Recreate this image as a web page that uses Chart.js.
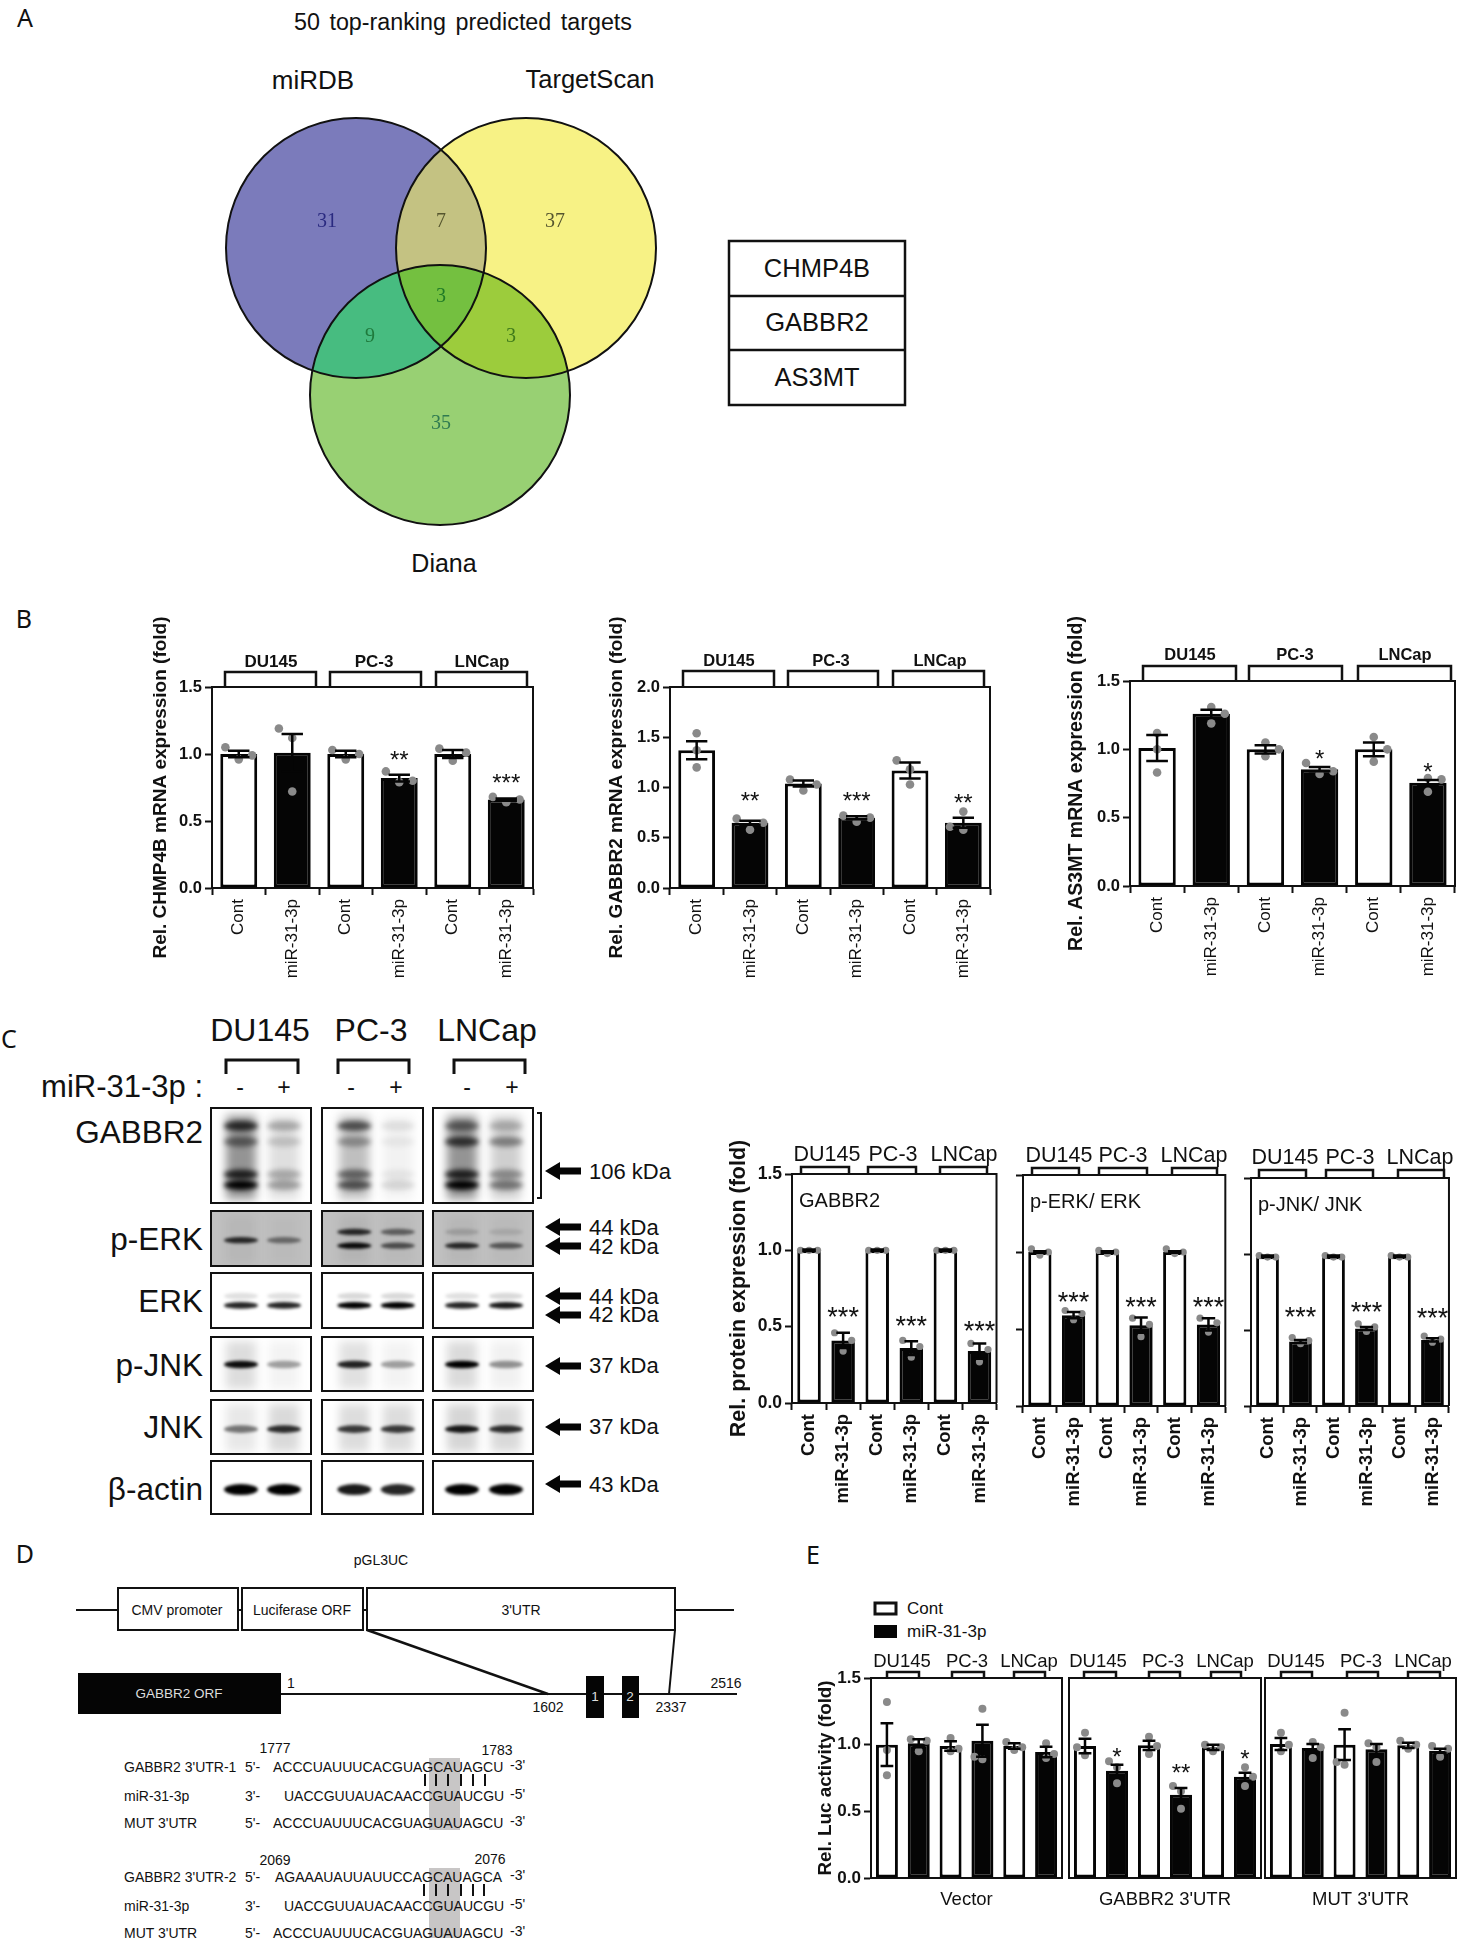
<!DOCTYPE html>
<html lang="en">
<head>
<meta charset="UTF-8">
<title>miR-31-3p targets</title>
<script src="https://cdn.jsdelivr.net/npm/chart.js"></script>
<style>
    html, body { margin: 0; background: #fff; }
    #page { position: relative; width: 1460px; height: 1940px; overflow: hidden; font-family: "Liberation Sans", Arial, sans-serif; color: #111; }
    #page canvas { position: absolute; }
    #page svg { position: absolute; left: 0; top: 0; }
    .t { position: absolute; white-space: pre; line-height: 1; }
</style>
</head>
<body>
<div id="page"></div>
<script>
// ---- data ----
const treatments = ['Cont', 'miR-31-3p', 'Cont', 'miR-31-3p', 'Cont', 'miR-31-3p'];
const cellLines = ['DU145', 'PC-3', 'LNCap'];
const noStars = ['', '', '', '', '', ''];
const noStarY = [0, 0, 0, 0, 0, 0];

// B: mRNA
const chmp4bMean = [1.00, 1.01, 1.00, 0.82, 1.00, 0.66];
const chmp4bSem = [0.025, 0.14, 0.025, 0.025, 0.03, 0.008];
const chmp4bDots = [[1.05, 0.96, 0.99], [1.19, 1.12, 0.72], [1.03, 0.96, 1.00], [0.87, 0.79, 0.80], [1.04, 0.95, 1.01], [0.68, 0.64, 0.66]];
const chmp4bStars = ['', '', '', '**', '', '***'];
const chmp4bStarY = [0, 0, 0, 1.0, 0, 0.83];

const gabbr2Mean = [1.37, 0.65, 1.04, 0.70, 1.17, 0.65];
const gabbr2Sem = [0.09, 0.02, 0.03, 0.015, 0.08, 0.05];
const gabbr2Dots = [[1.54, 1.37, 1.20], [0.69, 0.58, 0.65], [1.08, 0.97, 1.03], [0.72, 0.66, 0.70], [1.27, 1.18, 1.03], [0.76, 0.58, 0.61]];
const gabbr2Stars = ['', '**', '', '***', '', '**'];
const gabbr2StarY = [0, 0.93, 0, 0.93, 0, 0.91];

const as3mtMean = [1.01, 1.26, 1.00, 0.855, 1.00, 0.755];
const as3mtSem = [0.095, 0.03, 0.03, 0.015, 0.05, 0.02];
const as3mtDots = [[1.12, 0.83, 1.00], [1.31, 1.19, 1.26], [1.05, 0.95, 1.00], [0.90, 0.82, 0.84], [1.09, 0.91, 1.00], [0.79, 0.69, 0.78]];
const as3mtStars = ['', '', '', '*', '', '*'];
const as3mtStarY = [0, 0, 0, 0.975, 0, 0.88];

// C: protein
const protGabbr2Mean = [1.00, 0.41, 1.00, 0.36, 1.00, 0.34];
const protGabbr2Sem = [0.005, 0.05, 0.005, 0.045, 0.005, 0.05];
const protGabbr2Dots = [[1, 1, 1], [0.46, 0.34, 0.41], [1, 1, 1], [0.41, 0.30, 0.37], [1, 1, 1], [0.39, 0.27, 0.35]];
const protGabbr2Stars = ['', '***', '', '***', '', '***'];
const protGabbr2StarY = [0, 0.607, 0, 0.552, 0, 0.517];

const pErkMean = [1.00, 0.59, 1.00, 0.525, 1.00, 0.53];
const pErkSem = [0.005, 0.02, 0.005, 0.05, 0.005, 0.04];
const pErkDots = [[1.02, 0.98, 1.00], [0.62, 0.56, 0.60], [1.01, 0.99, 1.00], [0.57, 0.45, 0.53], [1.02, 0.99, 1.00], [0.57, 0.48, 0.54]];
const pErkStars = ['', '***', '', '***', '', '***'];
const pErkStarY = [0, 0.72, 0, 0.69, 0, 0.685];

const pJnkMean = [0.985, 0.425, 0.985, 0.51, 0.985, 0.435];
const pJnkSem = [0.005, 0.01, 0.005, 0.01, 0.005, 0.01];
const pJnkDots = [[0.99, 0.98, 0.98], [0.45, 0.41, 0.43], [0.99, 0.98, 0.98], [0.54, 0.49, 0.52], [0.99, 0.98, 0.98], [0.46, 0.42, 0.44]];
const pJnkStars = ['', '***', '', '***', '', '***'];
const pJnkStarY = [0, 0.63, 0, 0.665, 0, 0.625];

// E: luciferase
const vectorMean = [1.00, 1.01, 0.99, 1.03, 0.99, 0.945];
const vectorSem = [0.16, 0.03, 0.035, 0.12, 0.02, 0.04];
const vectorDots = [[1.32, 0.96, 0.77], [1.04, 0.95, 1.03], [1.05, 0.95, 0.97], [1.27, 0.91, 0.89], [1.02, 0.96, 0.98], [1.01, 0.90, 0.93]];

const utrMean = [0.99, 0.805, 0.995, 0.625, 0.98, 0.76];
const utrSem = [0.055, 0.045, 0.035, 0.05, 0.02, 0.03];
const utrDots = [[1.09, 0.92, 0.98], [0.875, 0.71, 0.83], [1.06, 0.93, 0.99], [0.69, 0.52, 0.65], [1.00, 0.95, 0.98], [0.83, 0.69, 0.76]];
const utrStars = ['', '*', '', '**', '', '*'];
const utrStarY = [0, 0.957, 0, 0.83, 0, 0.937];

const mutMean = [1.005, 0.975, 1.00, 0.965, 0.995, 0.955];
const mutSem = [0.045, 0.03, 0.115, 0.04, 0.02, 0.015];
const mutDots = [[1.09, 0.95, 1.00], [1.02, 0.90, 0.98], [1.24, 0.85, 0.87], [1.01, 0.87, 0.98], [1.03, 0.97, 1.00], [0.99, 0.91, 0.97]];

// A: venn
const vennX = [356, 526, 440];
const vennY = [248, 248, 395];
const vennR = [130, 130, 130];
const vennCounts = ['31', '7', '37', '3', '9', '3', '35'];
const vennCountX = [327, 441, 555, 441, 370, 511, 441];
const vennCountY = [222, 222, 222, 297, 337, 337, 424];
const targetGenes = ['CHMP4B', 'GABBR2', 'AS3MT'];

// C: blot band density, one list per lane (-,+ for each cell line), one value per band level
const gabbr2Levels = [0.19, 0.355, 0.70, 0.81];
const gabbr2Density = [[0.75, 0.45, 0.8, 1], [0.25, 0.15, 0.25, 0.3], [0.6, 0.3, 0.5, 0.6], [0.08, 0.05, 0.06, 0.12], [0.45, 0.7, 0.8, 1], [0.2, 0.4, 0.35, 0.45]];
const perkLevels = [0.38, 0.53, 0.63];
const perkDensity = [[0, 0.8, 0], [0, 0.45, 0], [0.8, 0, 0.95], [0.5, 0, 0.6], [0.15, 0, 0.8], [0.1, 0, 0.55]];
const erkLevels = [0.42, 0.59];
const erkDensity = [[0.12, 0.85], [0.12, 0.85], [0.15, 1], [0.15, 1], [0.12, 0.85], [0.15, 0.9]];
const pjnkLevels = [0.51];
const pjnkDensity = [[0.95], [0.35], [0.85], [0.35], [1], [0.4]];
const jnkLevels = [0.54];
const jnkDensity = [[0.5], [0.8], [0.75], [0.75], [0.9], [0.8]];
const actinLevels = [0.54];
const actinDensity = [[1], [1], [0.9], [0.85], [1], [1]];

// ---- page helpers ----
const FONT = '"Liberation Sans", Arial, sans-serif';
const page = document.getElementById('page');
const svg = document.createElementNS('http://www.w3.org/2000/svg', 'svg');
svg.setAttribute('width', 1460);
svg.setAttribute('height', 1940);
page.appendChild(svg);

function shape(name, attrs) {
    const el = document.createElementNS('http://www.w3.org/2000/svg', name);
    for (const k in attrs) el.setAttribute(k, attrs[k]);
    svg.appendChild(el);
    return el;
}
function line(x1, y1, x2, y2, w) { shape('line', { x1, y1, x2, y2, stroke: '#111', 'stroke-width': w || 2 }); }
function box(x1, y1, x2, y2, w, fill) {
    shape('rect', { x: x1, y: y1, width: x2 - x1, height: y2 - y1, fill: fill || '#fff', stroke: w ? '#111' : 'none', 'stroke-width': w || 0 });
}
// anchor: l, c or r. y is the vertical centre of the text
function label(text, x, y, size, anchor, extra) {
    const el = document.createElement('div');
    el.className = 't';
    el.textContent = text;
    el.style.left = x + 'px';
    el.style.top = y + 'px';
    el.style.fontSize = size + 'px';
    const dx = anchor === 'c' ? '-50%' : anchor === 'r' ? '-100%' : '0';
    el.style.transform = 'translate(' + dx + ',-50%)';
    Object.assign(el.style, extra || {});
    page.appendChild(el);
}
function newCanvas(left, top, width, height) {
    const c = document.createElement('canvas');
    c.width = width;
    c.height = height;
    c.style.left = left + 'px';
    c.style.top = top + 'px';
    c.style.width = width + 'px';
    c.style.height = height + 'px';
    page.appendChild(c);
    return c;
}
function pageScales(left, top, width, height) {
    return {
        x: { type: 'linear', display: false, min: left, max: left + width },
        y: { type: 'linear', display: false, min: top, max: top + height, reverse: true }
    };
}
const quiet = { legend: { display: false }, tooltip: { enabled: false } };

// Prism style spread of the three replicates: slot -1, 0 or 1 next to the bar centre
function spreadDots(values, pxPerUnit, gap) {
    const sorted = [...values].sort((a, b) => a - b);
    const placed = [];
    const close = (a, b) => Math.abs(a - b) * pxPerUnit < gap;
    sorted.forEach((v, i) => {
        const hit = s => placed.some(p => p.slot === s && close(p.v, v));
        let slot = 0;
        if (hit(0)) {
            const more = i < sorted.length - 1 && close(sorted[i + 1], v);
            slot = more ? 1 : (hit(-1) ? 1 : -1);
        }
        placed.push({ v, slot });
    });
    return placed;
}

// ---- bar panels ----
const panels = [
    { mean: chmp4bMean, sem: chmp4bSem, dots: chmp4bDots, stars: chmp4bStars, starY: chmp4bStarY, l: 212, r: 533, t: 687, b: 888, yMax: 1.5, head: 80, foot: 95,
      title: 'Rel. CHMP4B mRNA expression (fold)', titleX: 161, titleSize: 19, tickSize: 16.5, xFont: { size: 17 }, groupFont: 'bold 17px ', brackets: [[225, 316], [330, 421], [436, 527]], bracketTop: 672, labelX: [271, 374, 482], labelY: 662, dotR: 4.3, gap: 13, starSize: 24 },
    { mean: gabbr2Mean, sem: gabbr2Sem, dots: gabbr2Dots, stars: gabbr2Stars, starY: gabbr2StarY, l: 670, r: 990, t: 687, b: 888, yMax: 2, head: 80, foot: 95,
      title: 'Rel. GABBR2 mRNA expression (fold)', titleX: 617, titleSize: 19, tickSize: 16.5, xFont: { size: 17 }, groupFont: 'bold 16.5px ', brackets: [[683, 774], [788, 878], [893, 984]], bracketTop: 671, labelX: [729, 831, 940], labelY: 661, dotR: 4.3, gap: 13, starSize: 24 },
    { mean: as3mtMean, sem: as3mtSem, dots: as3mtDots, stars: as3mtStars, starY: as3mtStarY, l: 1130, r: 1455, t: 681, b: 886, yMax: 1.5, head: 80, foot: 95,
      title: 'Rel. AS3MT mRNA expression (fold)', titleX: 1077, titleSize: 19.5, tickSize: 16.5, xFont: { size: 17 }, groupFont: 'bold 16.5px ', brackets: [[1143, 1236], [1249, 1342], [1358, 1451]], bracketTop: 666, labelX: [1190, 1295, 1405], labelY: 655, dotR: 4.3, gap: 13, starSize: 24 },

    { mean: protGabbr2Mean, sem: protGabbr2Sem, dots: protGabbr2Dots, stars: protGabbr2Stars, starY: protGabbr2StarY, l: 792, r: 1002, t: 1174, b: 1403, yMax: 1.5, head: 40, foot: 112,
      title: 'Rel. protein expression (fold)', titleX: 739, titleSize: 21.5, tickSize: 17.5, xFont: { size: 18.5, weight: 'bold' }, groupFont: '21.5px ', brackets: [[801, 849], [868, 916], [940, 987]], bracketTop: 1167, labelX: [827, 893, 964], labelY: 1155, dotR: 3.6, gap: 35, starSize: 27, inset: 'GABBR2' },
    { mean: pErkMean, sem: pErkSem, dots: pErkDots, stars: pErkStars, starY: pErkStarY, l: 1023, r: 1231, t: 1175, b: 1406, yMax: 1.5, head: 40, foot: 112,
      noTickText: true, xFont: { size: 18.5, weight: 'bold' }, groupFont: '21.5px ', brackets: [[1032, 1079], [1099, 1147], [1172, 1217]], bracketTop: 1168, labelX: [1059, 1123, 1194], labelY: 1156, dotR: 3.6, gap: 35, starSize: 27, inset: 'p-ERK/ ERK' },
    { mean: pJnkMean, sem: pJnkSem, dots: pJnkDots, stars: pJnkStars, starY: pJnkStarY, l: 1251, r: 1455, t: 1178, b: 1406, yMax: 1.5, head: 40, foot: 112,
      noTickText: true, xFont: { size: 18.5, weight: 'bold' }, groupFont: '21.5px ', brackets: [[1259, 1306], [1326, 1373], [1398, 1444]], bracketTop: 1170, labelX: [1285, 1350, 1420], labelY: 1158, dotR: 3.6, gap: 35, starSize: 27, inset: 'p-JNK/ JNK' },

    { mean: vectorMean, sem: vectorSem, dots: vectorDots, stars: noStars, starY: noStarY, l: 871, r: 1062, t: 1678, b: 1878, yMax: 1.5, head: 30, foot: 37,
      title: 'Rel. Luc activity (fold)', titleX: 826, titleSize: 18.8, tickSize: 17, xTitle: 'Vector', groupFont: '18.5px ', brackets: [[887, 919], [952, 984], [1014, 1045]], bracketTop: 1672, labelX: [902, 967, 1029], labelY: 1662, dotR: 4, gap: 13, starSize: 24 },
    { mean: utrMean, sem: utrSem, dots: utrDots, stars: utrStars, starY: utrStarY, l: 1069, r: 1261, t: 1678, b: 1878, yMax: 1.5, head: 30, foot: 37,
      noTickText: true, noTicks: true, xTitle: "GABBR2 3'UTR", groupFont: '18.5px ', brackets: [[1084, 1116], [1149, 1180], [1211, 1241]], bracketTop: 1672, labelX: [1098, 1163, 1225], labelY: 1662, dotR: 4, gap: 13, starSize: 24 },
    { mean: mutMean, sem: mutSem, dots: mutDots, stars: noStars, starY: noStarY, l: 1265, r: 1456, t: 1678, b: 1878, yMax: 1.5, head: 30, foot: 37,
      noTickText: true, noTicks: true, xTitle: "MUT 3'UTR", groupFont: '18.5px ', brackets: [[1281, 1312], [1347, 1378], [1408, 1440]], bracketTop: 1672, labelX: [1296, 1361, 1423], labelY: 1662, dotR: 4, gap: 13, starSize: 24 }
];

// replicate dots, error bars, stars, open frame and the cell line brackets on top of the bars
function panelPlugin(p, left, top) {
    return {
        id: 'panelExtras',
        afterDatasetsDraw(chart) {
            const ctx = chart.ctx, x = chart.scales.x, y = chart.scales.y, area = chart.chartArea;
            const cap = (area.right - area.left) / 6 * 0.2;
            const perUnit = (p.b - p.t) / p.yMax;
            ctx.save();
            ctx.fillStyle = '#8a8a8a';
            p.dots.forEach((vals, i) => {
                spreadDots(vals, perUnit, p.gap).forEach(d => {
                    ctx.beginPath();
                    ctx.arc(x.getPixelForValue(i + d.slot * 0.25), y.getPixelForValue(d.v), p.dotR, 0, Math.PI * 2);
                    ctx.fill();
                });
            });
            ctx.strokeStyle = '#050505';
            ctx.lineWidth = 2.5;
            p.mean.forEach((m, i) => {
                const px = x.getPixelForValue(i);
                const hi = y.getPixelForValue(m + p.sem[i]), lo = y.getPixelForValue(m - p.sem[i]);
                ctx.beginPath();
                ctx.moveTo(px, hi); ctx.lineTo(px, lo);
                ctx.moveTo(px - cap, hi); ctx.lineTo(px + cap, hi);
                ctx.moveTo(px - cap, lo); ctx.lineTo(px + cap, lo);
                ctx.stroke();
            });
            ctx.fillStyle = '#111';
            ctx.textAlign = 'center';
            ctx.textBaseline = 'alphabetic';
            ctx.font = p.starSize + 'px ' + FONT;
            p.stars.forEach((s, i) => {
                if (s) ctx.fillText(s, x.getPixelForValue(i), y.getPixelForValue(p.starY[i]) + p.starSize * 0.59);
            });

            ctx.strokeStyle = '#111';
            ctx.lineWidth = 2;
            ctx.beginPath();
            ctx.moveTo(area.left, area.top); ctx.lineTo(area.right, area.top); ctx.lineTo(area.right, area.bottom);
            ctx.stroke();

            ctx.lineWidth = 2.5;
            p.brackets.forEach(br => {
                ctx.beginPath();
                ctx.moveTo(br[0] - left, area.top);
                ctx.lineTo(br[0] - left, p.bracketTop - top);
                ctx.lineTo(br[1] - left, p.bracketTop - top);
                ctx.lineTo(br[1] - left, area.top);
                ctx.stroke();
            });
            ctx.textBaseline = 'middle';
            ctx.font = p.groupFont + FONT;
            cellLines.forEach((c, i) => ctx.fillText(c, p.labelX[i] - left, p.labelY - top));
            if (p.inset) {
                ctx.textAlign = 'left';
                ctx.font = '20px ' + FONT;
                ctx.fillText(p.inset, area.left + 7, area.top + 27);
            }
            ctx.restore();
        }
    };
}

panels.forEach(p => {
    const yW = p.title ? p.l - (p.titleX - 16) : 10;
    const left = p.l - yW, top = p.t - p.head;
    const width = p.r - left + 4, height = p.b - top + p.foot;
    const canvas = newCanvas(left, top, width, height);
    new Chart(canvas, {
        type: 'bar',
        data: {
            labels: treatments,
            datasets: [{
                data: p.mean, categoryPercentage: 1, barPercentage: 0.69,
                backgroundColor: treatments.map((t, i) => i % 2 ? '#050505' : '#fff'),
                borderColor: '#050505', borderWidth: 3, borderSkipped: false
            }]
        },
        options: {
            responsive: false,
            animation: false,
            layout: { autoPadding: false, padding: { top: p.head, right: 4, left: 0, bottom: 0 } },
            plugins: quiet,
            scales: {
                x: {
                    type: 'category',
                    afterFit: s => { s.height = p.foot; },
                    border: { color: '#111', width: 2 },
                    grid: { drawOnChartArea: false, drawTicks: !p.xTitle, tickLength: 7, tickColor: '#111', tickWidth: 2 },
                    ticks: p.xTitle ? { display: false } : {
                        autoSkip: false, minRotation: 90, maxRotation: 90, padding: 4, color: '#111',
                        font: Object.assign({ family: FONT }, p.xFont)
                    },
                    title: p.xTitle ? { display: true, text: p.xTitle, color: '#111', font: { family: FONT, size: 18.5 }, padding: { top: 0, bottom: 4 } } : { display: false }
                },
                y: {
                    min: 0, max: p.yMax,
                    afterFit: s => { s.width = yW; },
                    border: { color: '#111', width: 2 },
                    grid: { drawOnChartArea: false, drawTicks: !p.noTicks, tickLength: 7, tickColor: '#111', tickWidth: 2 },
                    ticks: {
                        stepSize: 0.5, padding: 3, color: '#111',
                        font: { family: FONT, size: p.tickSize || 16, weight: 'bold' },
                        callback: v => p.noTickText ? '' : v.toFixed(1)
                    },
                    title: p.title ? {
                        display: true, text: p.title, color: '#111',
                        font: { family: FONT, size: p.titleSize, weight: 'bold' },
                        padding: { top: 16 - p.titleSize * 0.6, bottom: 0 }
                    } : { display: false }
                }
            }
        },
        plugins: [panelPlugin(p, left, top)]
    });
});

// ---- A: venn, bubbles on page-sized scales, overlaps painted by clipping ----
const vennRegions = [
    { sets: [0, 1], color: '#c4c282' },
    { sets: [0, 2], color: '#47bc80' },
    { sets: [1, 2], color: '#9ccc3c' },
    { sets: [0, 1, 2], color: '#74c040' }
];
const vennTextColors = ['#2a2a80', '#55552e', '#55552e', '#1f7a26', '#1f7a3c', '#3f7a1a', '#2f7a50'];
new Chart(newCanvas(210, 100, 470, 440), {
    type: 'bubble',
    data: {
        datasets: [{
            data: vennX.map((x, i) => ({ x, y: vennY[i], r: vennR[i] })),
            backgroundColor: ['#7b7bbb', '#f7f285', '#98d073'], borderWidth: 0, clip: false
        }]
    },
    options: { responsive: false, animation: false, layout: { autoPadding: false }, plugins: quiet, scales: pageScales(210, 100, 470, 440) },
    plugins: [{
        id: 'vennOverlaps',
        afterDatasetsDraw(chart) {
            const ctx = chart.ctx, pts = chart.getDatasetMeta(0).data;
            const circle = i => { ctx.beginPath(); ctx.arc(pts[i].x, pts[i].y, vennR[i], 0, Math.PI * 2); };
            vennRegions.forEach(reg => {
                ctx.save();
                reg.sets.forEach(i => { circle(i); ctx.clip(); });
                ctx.fillStyle = reg.color;
                ctx.fillRect(0, 0, chart.width, chart.height);
                ctx.restore();
            });
            ctx.save();
            ctx.strokeStyle = '#111';
            ctx.lineWidth = 2;
            pts.forEach((p, i) => { circle(i); ctx.stroke(); });
            ctx.textAlign = 'center';
            ctx.textBaseline = 'middle';
            ctx.font = '20px "Liberation Serif", serif';
            vennCounts.forEach((c, i) => {
                ctx.fillStyle = vennTextColors[i];
                ctx.fillText(c, chart.scales.x.getPixelForValue(vennCountX[i]), chart.scales.y.getPixelForValue(vennCountY[i]));
            });
            ctx.restore();
        }
    }]
});

label('50 top-ranking predicted targets', 463, 23, 23.3, 'c', { wordSpacing: '3px' });
label('miRDB', 313, 80, 26, 'c');
label('TargetScan', 590, 80, 25.5, 'c');
label('Diana', 444, 563, 25, 'c');
box(729, 241, 905, 405, 2.5);
line(729, 296, 905, 296, 2.5);
line(729, 350, 905, 350, 2.5);
targetGenes.forEach((g, i) => label(g, 817, [269, 323, 378][i], 25.5, 'c'));

const letterStyle = { fontFamily: '"Noto Sans", sans-serif' };
label('A', 25, 17, 25, 'c', letterStyle);
label('B', 24, 618, 25, 'c', letterStyle);
label('C', 9, 1038, 25, 'c', letterStyle);
label('D', 25, 1553, 25, 'c', letterStyle);
label('E', 813, 1554, 25, 'c', letterStyle);

// ---- C: blots ----
const blotColumns = [[211, 311], [322, 423], [433, 533]];
const blotLanes = [[0.30, 0.73], [0.32, 0.75], [0.29, 0.73]];
const blotRows = [
    { name: 'GABBR2', top: 1108, bottom: 1203, labelY: 1133, bg: '#fff', levels: gabbr2Levels, density: gabbr2Density, thick: 5, blur: 2.6, smear: 0.42 },
    { name: 'p-ERK', top: 1211, bottom: 1266, labelY: 1240, bg: '#c0c0c0', levels: perkLevels, density: perkDensity, thick: 3.2, blur: 1.7, smear: 0.06 },
    { name: 'ERK', top: 1273, bottom: 1328, labelY: 1302, bg: '#fff', levels: erkLevels, density: erkDensity, thick: 3.4, blur: 1.5, smear: 0 },
    { name: 'p-JNK', top: 1337, bottom: 1391, labelY: 1366, bg: '#fff', levels: pjnkLevels, density: pjnkDensity, thick: 3.8, blur: 1.8, smear: 0.14 },
    { name: 'JNK', top: 1400, bottom: 1454, labelY: 1428, bg: '#fff', levels: jnkLevels, density: jnkDensity, thick: 3.8, blur: 1.8, smear: 0.18 },
    { name: 'β-actin', top: 1461, bottom: 1514, labelY: 1490, bg: '#fff', levels: actinLevels, density: actinDensity, thick: 5.5, blur: 1.8, smear: 0 }
];
new Chart(newCanvas(205, 1100, 335, 420), {
    type: 'scatter',
    data: { datasets: [] },
    options: { responsive: false, animation: false, layout: { autoPadding: false }, plugins: quiet, scales: pageScales(205, 1100, 335, 420) },
    plugins: [{
        id: 'blotBands',
        afterDraw(chart) {
            const ctx = chart.ctx, sx = chart.scales.x, sy = chart.scales.y;
            blotRows.forEach(row => {
                const y0 = sy.getPixelForValue(row.top), y1 = sy.getPixelForValue(row.bottom);
                blotColumns.forEach((col, c) => {
                    const x0 = sx.getPixelForValue(col[0]), x1 = sx.getPixelForValue(col[1]);
                    ctx.save();
                    ctx.beginPath();
                    ctx.rect(x0, y0, x1 - x0, y1 - y0);
                    ctx.fillStyle = row.bg;
                    ctx.fill();
                    ctx.clip();
                    blotLanes[c].forEach((frac, lane) => {
                        const d = row.density[c * 2 + lane];
                        const cx = x0 + (x1 - x0) * frac;
                        const strongest = Math.max(...d);
                        ctx.filter = 'blur(5px)';
                        ctx.fillStyle = 'rgba(0,0,0,' + row.smear * strongest + ')';
                        ctx.fillRect(cx - 15, y0 + (y1 - y0) * 0.08, 30, (y1 - y0) * 0.88);
                        ctx.filter = 'blur(' + row.blur + 'px)';
                        d.forEach((v, k) => {
                            if (!v) return;
                            const cy = y0 + (y1 - y0) * row.levels[k];
                            ctx.fillStyle = 'rgba(0,0,0,' + Math.min(1, v) + ')';
                            ctx.beginPath();
                            ctx.ellipse(cx, cy, 17, row.thick, 0, 0, Math.PI * 2);
                            ctx.fill();
                        });
                        ctx.filter = 'none';
                    });
                    ctx.restore();
                    ctx.strokeStyle = '#111';
                    ctx.lineWidth = 2;
                    ctx.strokeRect(x0, y0, x1 - x0, y1 - y0);
                });
            });
        }
    }]
});

blotRows.forEach(row => label(row.name, 203, row.labelY, 31.5, 'r'));
label('DU145', 260, 1030, 32, 'c');
label('PC-3', 371, 1030, 32, 'c');
label('LNCap', 487, 1030, 32, 'c');
label('miR-31-3p :', 203, 1086, 31, 'r');
[[226, 298], [338, 409], [454, 525]].forEach(b => {
    shape('polyline', { points: b[0] + ',1074 ' + b[0] + ',1060 ' + b[1] + ',1060 ' + b[1] + ',1074', fill: 'none', stroke: '#111', 'stroke-width': 3 });
});
[240, 351, 467].forEach(x => label('-', x, 1087, 23, 'c'));
[284, 396, 512].forEach(x => label('+', x, 1087, 23, 'c'));
shape('polyline', { points: '537,1113 541,1113 541,1198 537,1198', fill: 'none', stroke: '#111', 'stroke-width': 2 });

function arrow(y) {
    shape('polygon', { points: [[545, y], [560, y - 9], [560, y - 3.5], [581, y - 3.5], [581, y + 3.5], [560, y + 3.5], [560, y + 9]].join(' '), fill: '#050505' });
}
[[1171, '106 kDa', 1172], [1227, '44 kDa', 1228], [1246, '42 kDa', 1247], [1296, '44 kDa', 1297], [1315, '42 kDa', 1315], [1366, '37 kDa', 1366], [1427, '37 kDa', 1427], [1484, '43 kDa', 1485]].forEach(a => {
    arrow(a[0]);
    label(a[1], 589, a[2], 22, 'l');
});

// ---- D: construct and sequences ----
label('pGL3UC', 381, 1560, 14, 'c');
line(76, 1610, 734, 1610, 2);
box(118, 1588, 238, 1630, 2);
box(242, 1588, 363, 1630, 2);
box(367, 1588, 675, 1630, 2);
label('CMV promoter', 177, 1610, 14, 'c');
label('Luciferase ORF', 302, 1610, 14, 'c');
label("3'UTR", 521, 1610, 14, 'c');
line(367, 1630, 548, 1694, 2.5);
line(675, 1630, 669, 1694, 2);
line(281, 1694, 737, 1694, 2);
box(78, 1673, 281, 1714, 0, '#050505');
label('GABBR2 ORF', 179, 1694, 13.5, 'c', { color: '#ddd' });
box(586, 1676, 604, 1718, 0, '#050505');
box(622, 1676, 639, 1718, 0, '#050505');
label('1', 595, 1697, 13.5, 'c', { color: '#ddd' });
label('2', 630, 1697, 13.5, 'c', { color: '#ddd' });
label('1', 291, 1683, 14, 'c');
label('1602', 548, 1707, 14, 'c');
label('2337', 671, 1707, 14, 'c');
label('2516', 726, 1683, 14, 'c');

box(429, 1758, 460, 1830, 0, '#c8c6c6');
box(429, 1868, 460, 1938, 0, '#c8c6c6');
const seqRows = [
    ["GABBR2 3'UTR-1", "5'-", 'ACCCUAUUUCACGUAGCAUAGCU', 273, "-3'", 1767],
    ['miR-31-3p', "3'-", 'UACCGUUAUACAACCGUAUCGU', 284, "-5'", 1796],
    ["MUT 3'UTR", "5'-", 'ACCCUAUUUCACGUAGUAUAGCU', 273, "-3'", 1823],
    ["GABBR2 3'UTR-2", "5'-", 'AGAAAUAUUAUUCCAGCAUAGCA', 275, "-3'", 1877],
    ['miR-31-3p', "3'-", 'UACCGUUAUACAACCGUAUCGU', 284, "-5'", 1906],
    ["MUT 3'UTR", "5'-", 'ACCCUAUUUCACGUAGUAUAGCU', 273, "-3'", 1933]
];
seqRows.forEach(r => {
    label(r[0], 124, r[5], 14, 'l');
    label(r[1], 245, r[5], 14, 'l');
    label(r[2], r[3], r[5], 14, 'l');
    label(r[4], 510, r[5] - 2, 14, 'l');
});
[[425, 436, 448, 461, 473, 485], [424, 436, 448, 461, 473, 484]].forEach((xs, k) => {
    const y0 = k ? 1884 : 1774, y1 = k ? 1896 : 1786;
    xs.forEach(x => line(x, y0, x, y1, 2));
});
label('1777', 275, 1748, 14, 'c');
label('1783', 497, 1750, 14, 'c');
label('2069', 275, 1860, 14, 'c');
label('2076', 490, 1859, 14, 'c');

// ---- E: legend ----
box(875, 1603, 896, 1614, 3);
box(874, 1625, 897, 1638, 0, '#050505');
label('Cont', 907, 1608, 17, 'l');
label('miR-31-3p', 907, 1631, 17, 'l');
</script>
</body>
</html>
